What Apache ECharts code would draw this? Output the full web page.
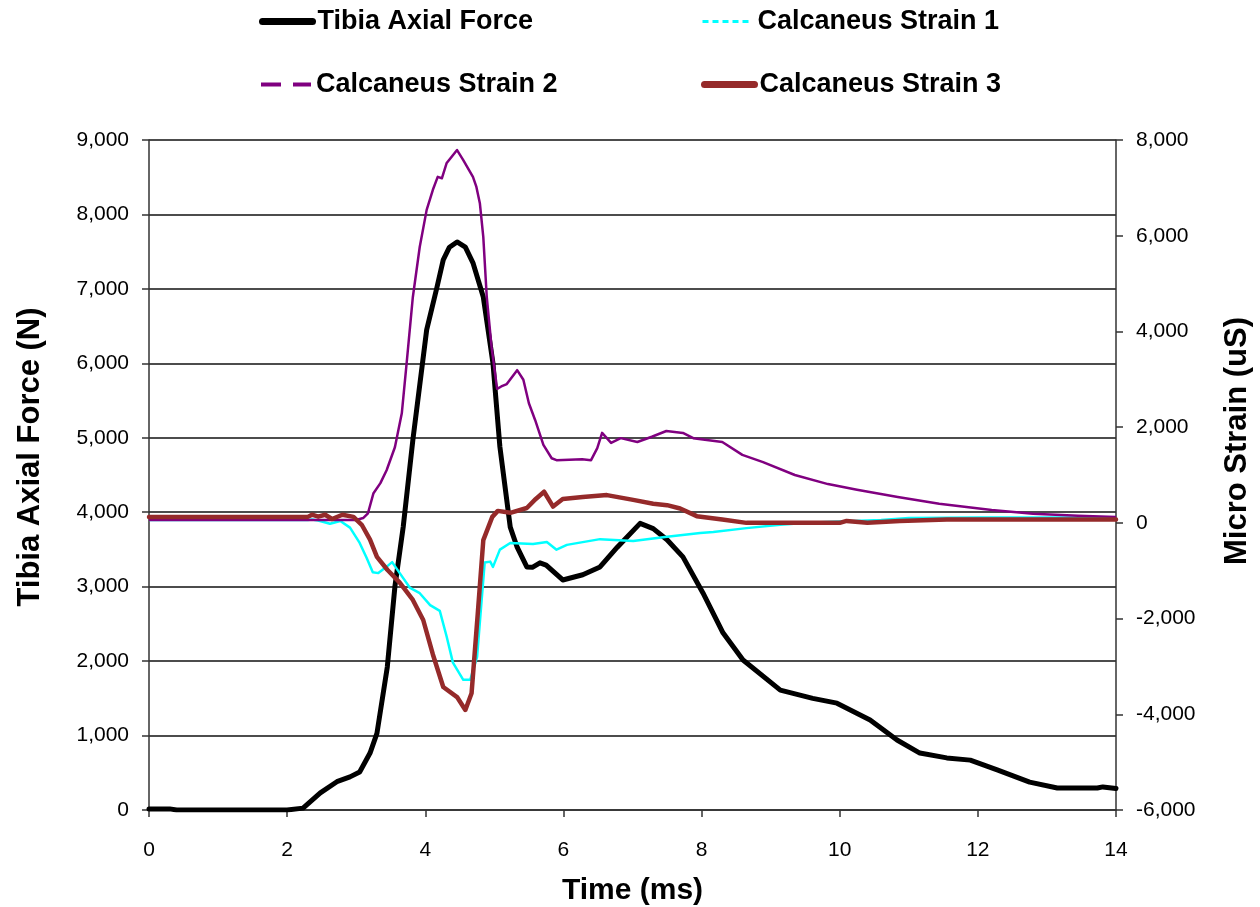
<!DOCTYPE html>
<html>
<head>
<meta charset="utf-8">
<script src="https://cdn.jsdelivr.net/npm/echarts@6/dist/echarts.min.js"></script>
<style>
html,body{margin:0;padding:0;background:#fff;}
#chart{width:1260px;height:907px;}
</style>
</head>
<body>
<div id="chart"></div>
<script>
// ---- Data (time in ms) ----
const seriesNames = ['Tibia Axial Force', 'Calcaneus Strain 1', 'Calcaneus Strain 2', 'Calcaneus Strain 3'];
const xTicks = [0, 2, 4, 6, 8, 10, 12, 14];

// Tibia Axial Force (N), left axis
const tibiaForce = [
  [0,15],[0.3,15],[0.4,0],[2.0,0],[2.23,25],[2.48,230],[2.72,380],[2.91,445],[3.05,510],[3.2,765],
  [3.3,1030],[3.45,1920],[3.56,3000],[3.68,3800],[3.82,4970],[4.02,6450],[4.17,7025],[4.26,7390],
  [4.35,7560],[4.46,7630],[4.58,7560],[4.69,7350],[4.84,6890],[4.98,6000],[5.08,4880],[5.23,3800],
  [5.33,3530],[5.47,3265],[5.55,3260],[5.66,3320],[5.75,3290],[5.99,3090],[6.28,3160],[6.53,3265],
  [6.78,3530],[7.11,3850],[7.3,3780],[7.5,3630],[7.73,3400],[8.02,2915],[8.31,2380],[8.6,2015],
  [9.14,1610],[9.61,1500],[9.96,1435],[10.44,1210],[10.83,940],[11.16,765],[11.55,700],[11.89,670],
  [12.28,540],[12.75,375],[13.15,295],[13.73,295],[13.81,310],[14,290]
];

// Calcaneus Strain 1 (uS), right axis
const strain1 = [
  [0,60],[2.3,60],[2.36,70],[2.45,50],[2.62,-20],[2.77,40],[2.91,-100],[3.05,-420],[3.15,-730],
  [3.24,-1030],[3.32,-1050],[3.42,-940],[3.52,-820],[3.63,-1050],[3.78,-1360],[3.92,-1470],
  [4.07,-1720],[4.21,-1840],[4.31,-2380],[4.4,-2920],[4.55,-3280],[4.65,-3280],[4.75,-2800],
  [4.82,-1540],[4.86,-830],[4.94,-810],[4.98,-920],[5.08,-560],[5.23,-420],[5.56,-440],[5.76,-400],
  [5.9,-560],[6.05,-460],[6.53,-340],[7.01,-380],[7.5,-290],[7.98,-210],[8.17,-190],[8.65,-110],
  [9.14,-40],[9.53,0],[10.2,40],[10.6,60],[11.0,100],[12,110],[14,110]
];

// Calcaneus Strain 2 (uS), right axis
const strain2 = [
  [0,60],[3.0,60],[3.1,100],[3.17,200],[3.25,620],[3.35,830],[3.44,1100],[3.56,1580],[3.66,2290],
  [3.73,3340],[3.82,4720],[3.92,5770],[4.02,6540],[4.11,6960],[4.18,7230],[4.24,7200],[4.31,7520],
  [4.46,7790],[4.55,7580],[4.69,7230],[4.74,7020],[4.79,6680],[4.84,5970],[4.89,4720],[4.96,3670],
  [5.04,2800],[5.1,2850],[5.18,2900],[5.33,3190],[5.42,2990],[5.5,2500],[5.59,2150],[5.71,1630],
  [5.83,1350],[5.9,1310],[6.27,1330],[6.4,1310],[6.49,1560],[6.56,1880],[6.69,1670],[6.83,1770],
  [7.07,1690],[7.28,1800],[7.49,1920],[7.73,1880],[7.88,1770],[8.3,1690],[8.59,1420],[8.89,1270],
  [9.35,1000],[9.83,810],[10.25,690],[10.84,540],[11.44,400],[12.2,270],[12.8,190],[13.45,150],[14,125]
];

// Calcaneus Strain 3 (uS), right axis
const strain3 = [
  [0,125],[2.3,125],[2.36,170],[2.45,130],[2.55,170],[2.65,80],[2.8,170],[2.96,125],[3.08,-40],
  [3.2,-350],[3.3,-710],[3.45,-980],[3.63,-1250],[3.82,-1610],[3.97,-2030],[4.11,-2750],[4.26,-3430],
  [4.46,-3640],[4.58,-3910],[4.67,-3560],[4.76,-1890],[4.84,-360],[4.97,125],[5.05,250],[5.23,210],
  [5.47,310],[5.6,500],[5.72,650],[5.85,340],[5.99,500],[6.28,540],[6.63,580],[7.01,480],[7.3,400],
  [7.5,370],[7.69,300],[7.93,140],[8.3,70],[8.65,0],[10,0],[10.1,40],[10.4,0],[10.87,40],[11.55,70],[14,70]
];

const FONT = "'Liberation Sans', Arial, sans-serif";
const fmt = v => Number(v).toLocaleString('en-US');

const chart = echarts.init(document.getElementById('chart'), null, {renderer: 'canvas'});

function legendAt(name, left, top, lineStyle) {
  return {
    data: [name], left: left, top: top, orient: 'horizontal',
    itemWidth: 50, itemHeight: 14, itemGap: 5, padding: 0,
    selectedMode: false,
    textStyle: {fontFamily: FONT, fontSize: 27, fontWeight: 'bold', color: '#000'},
    itemStyle: {opacity: 0},
    lineStyle: lineStyle
  };
}

const option = {
  animation: false,
  backgroundColor: '#fff',
  legend: [
    legendAt(seriesNames[0], 259, 8, {width: 7, cap: 'round', type: 'solid'}),
    legendAt(seriesNames[1], 701, 8, {width: 3, type: [6, 4]}),
    legendAt(seriesNames[2], 259, 71, {width: 4, type: [20, 12]}),
    legendAt(seriesNames[3], 701, 71, {width: 7, cap: 'round', type: 'solid'})
  ],
  grid: {left: 149, right: 144, top: 140, bottom: 97, containLabel: false, outerBoundsMode: 'none'},
  xAxis: {
    type: 'value', min: xTicks[0], max: xTicks[xTicks.length - 1], interval: 2,
    name: 'Time (ms)', nameLocation: 'middle', nameGap: 66,
    nameTextStyle: {fontFamily: FONT, fontSize: 30, fontWeight: 'bold', color: '#000'},
    axisLine: {show: true, lineStyle: {color: '#333', width: 1.5}},
    axisTick: {show: true, inside: false, length: 7, lineStyle: {color: '#333', width: 1.5}},
    axisLabel: {fontFamily: FONT, fontSize: 21, color: '#000', margin: 30},
    splitLine: {show: false}
  },
  yAxis: [
    {
      type: 'value', min: 0, max: 9000, interval: 1000, position: 'left',
      name: 'Tibia Axial Force (N)', nameLocation: 'middle', nameGap: 103, nameRotate: 90,
      nameTextStyle: {fontFamily: FONT, fontSize: 31, fontWeight: 'bold', color: '#000', padding: [0, 0, 0, 36]},
      axisLine: {show: true, lineStyle: {color: '#333', width: 1.5}},
      axisTick: {show: true, inside: false, length: 7, lineStyle: {color: '#333', width: 1.5}},
      axisLabel: {fontFamily: FONT, fontSize: 21, color: '#000', margin: 20, formatter: fmt},
      splitLine: {show: true, lineStyle: {color: '#111', width: 1.5}}
    },
    {
      type: 'value', min: -6000, max: 8000, interval: 2000, position: 'right',
      name: 'Micro Strain (uS)', nameLocation: 'middle', nameGap: 106, nameRotate: 90,
      nameTextStyle: {fontFamily: FONT, fontSize: 31, fontWeight: 'bold', color: '#000', padding: [0, 0, 0, 68]},
      axisLine: {show: true, lineStyle: {color: '#333', width: 1.5}},
      axisTick: {show: true, inside: false, length: 7, lineStyle: {color: '#333', width: 1.5}},
      axisLabel: {fontFamily: FONT, fontSize: 21, color: '#000', margin: 20, formatter: fmt},
      splitLine: {show: false}
    }
  ],
  series: [
    {
      name: seriesNames[0], type: 'line', yAxisIndex: 0, data: tibiaForce,
      showSymbol: false, symbol: 'none', smooth: false,
      itemStyle: {color: '#000'},
      lineStyle: {color: '#000', width: 5, join: 'round', cap: 'round'}, z: 2
    },
    {
      name: seriesNames[1], type: 'line', yAxisIndex: 1, data: strain1,
      showSymbol: false, symbol: 'none',
      itemStyle: {color: '#00ffff'},
      lineStyle: {color: '#00ffff', width: 2.5, join: 'round'}, z: 3
    },
    {
      name: seriesNames[2], type: 'line', yAxisIndex: 1, data: strain2,
      showSymbol: false, symbol: 'none',
      itemStyle: {color: '#800080'},
      lineStyle: {color: '#800080', width: 2.5, join: 'round'}, z: 4
    },
    {
      name: seriesNames[3], type: 'line', yAxisIndex: 1, data: strain3,
      showSymbol: false, symbol: 'none',
      itemStyle: {color: '#952a2a'},
      lineStyle: {color: '#952a2a', width: 4.5, join: 'round', cap: 'round'}, z: 5
    }
  ]
};
chart.setOption(option);
</script>
</body>
</html>
